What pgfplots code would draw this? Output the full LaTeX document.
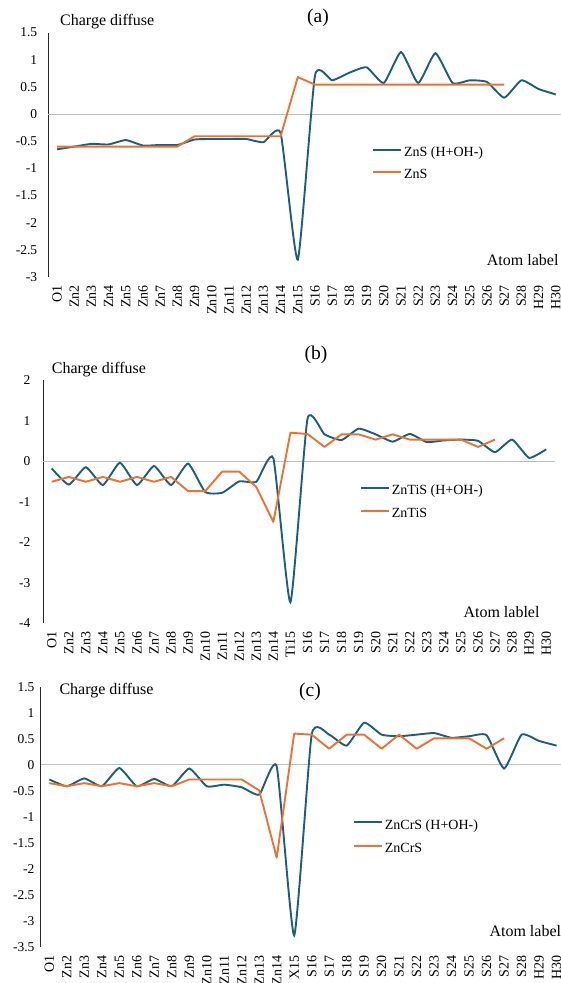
\documentclass[border=0pt]{standalone}
\usepackage{pgfplots}
\pgfplotsset{compat=1.18}
\usepackage{fontspec}
\setmainfont{Liberation Serif}

\definecolor{seriesblue}{HTML}{1B5E80}
\definecolor{seriesorange}{HTML}{EC7230}

\pgfplotsset{
  chargepanel/.style={
    scale only axis,
    axis lines=left,
    axis line style={-},
    x axis line style={draw=none},
    y axis line style={draw=black!85, line width=1.1pt},
    major tick length=0pt,
    xmin=-0.5, xmax=29.5,
    xtick={0,...,29},
    xticklabel style={rotate=90, anchor=east, inner sep=0pt, font=\fontsize{14}{14}\selectfont},
    xticklabel shift=8pt,
    yticklabel style={anchor=east, inner sep=0pt, font=\fontsize{13.5}{14}\selectfont},
    extra y ticks={0},
    extra y tick labels={},
    extra y tick style={grid=major, major grid style={draw=black!25, line width=0.8pt}},
    legend cell align=left,
    legend style={draw=none, fill=none, inner sep=0pt, anchor=north west,
      font=\fontsize{14}{16}\selectfont, row sep=9pt, column sep=2pt,
      nodes={inner sep=0pt, text height=10pt, text depth=3.5pt}},
    legend image code/.code={\draw[#1] (0pt,3.5pt) -- (28pt,3.5pt);},
    clip=false,
  },
  hydro/.style={seriesblue, line width=1.9pt, smooth, tension=0.3},
  bare/.style={seriesorange, line width=1.9pt, line join=round},
}

\newcommand{\axtitle}{\fontsize{16}{18}\selectfont}
\newcommand{\paneltag}{\fontsize{19.5}{21}\selectfont}

\begin{document}
\begin{tikzpicture}
\path[use as bounding box] (0pt,0pt) rectangle (560pt,-983pt);

% ---------------- (a) ZnS ----------------
\begin{scope}[shift={(48.4pt,-32.5pt)}]
\begin{axis}[chargepanel, anchor=north west,
  width=516pt, height=244.5pt,
  ymin=-3, ymax=1.5,
  ytick={-3,-2.5,-2,-1.5,-1,-0.5,0,0.5,1,1.5},
  yticklabels={-3,-2.5,-2,-1.5,-1,-0.5,0,0.5,1,1.5},
  yticklabel shift=11pt,
  xticklabels={O1,Zn2,Zn3,Zn4,Zn5,Zn6,Zn7,Zn8,Zn9,Zn10,Zn11,Zn12,Zn13,Zn14,Zn15,S16,S17,S18,S19,S20,S21,S22,S23,S24,S25,S26,S27,S28,H29,H30},
  legend style={at={(rel axis cs:0.627,0.535)}},
]
\addplot[hydro] coordinates {
  (0,-0.65) (1,-0.60) (2,-0.55) (3,-0.56) (4,-0.48) (5,-0.58) (6,-0.57) (7,-0.57)
  (8,-0.47) (9,-0.46) (10,-0.46) (11,-0.46) (12,-0.52) (13,-0.35) (14,-2.68)
  (15,0.71) (16,0.62) (17,0.76) (18,0.86) (19,0.57) (20,1.14) (21,0.57) (22,1.12)
  (23,0.57) (24,0.62) (25,0.59) (26,0.30) (27,0.62) (28,0.46) (29,0.36)};
\addlegendentry{ZnS (H+OH-)}
\addplot[bare] coordinates {
  (0,-0.6) (1,-0.6) (2,-0.6) (3,-0.6) (4,-0.6) (5,-0.6) (6,-0.6) (7,-0.6)
  (8,-0.41) (9,-0.41) (10,-0.41) (11,-0.41) (12,-0.41) (13,-0.41) (14,0.68)
  (15,0.54) (16,0.54) (17,0.54) (18,0.54) (19,0.54) (20,0.54) (21,0.54) (22,0.54)
  (23,0.54) (24,0.54) (25,0.54) (26,0.54)};
\addlegendentry{ZnS}
\end{axis}
\end{scope}
\node[anchor=base west, inner sep=0pt, font=\axtitle] at (60pt,-25pt) {Charge diffuse};
\node[anchor=base west, inner sep=0pt, font=\axtitle] at (486.7pt,-265pt) {Atom label};
\node[inner sep=0pt, font=\paneltag] at (318pt,-17.5pt) {(a)};

% ---------------- (b) ZnTiS ----------------
\begin{scope}[shift={(43.2pt,-380pt)}]
\begin{axis}[chargepanel, anchor=north west,
  width=511.5pt, height=243.3pt,
  ymin=-4, ymax=2,
  ytick={-4,-3,-2,-1,0,1,2},
  yticklabels={-4,-3,-2,-1,0,1,2},
  yticklabel shift=12.6pt,
  xticklabels={O1,Zn2,Zn3,Zn4,Zn5,Zn6,Zn7,Zn8,Zn9,Zn10,Zn11,Zn12,Zn13,Zn14,Ti15,S16,S17,S18,S19,S20,S21,S22,S23,S24,S25,S26,S27,S28,H29,H30},
  legend style={at={(rel axis cs:0.619,0.570)}},
]
\addplot[hydro] coordinates {
  (0,-0.18) (1,-0.58) (2,-0.15) (3,-0.59) (4,-0.04) (5,-0.59) (6,-0.12) (7,-0.59)
  (8,-0.06) (9,-0.76) (10,-0.78) (11,-0.50) (12,-0.51) (13,0.07) (14,-3.48)
  (15,1.04) (16,0.66) (17,0.52) (18,0.80) (19,0.66) (20,0.48) (21,0.67) (22,0.47)
  (23,0.51) (24,0.53) (25,0.50) (26,0.22) (27,0.53) (28,0.08) (29,0.29)};
\addlegendentry{ZnTiS (H+OH-)}
\addplot[bare] coordinates {
  (0,-0.51) (1,-0.39) (2,-0.51) (3,-0.39) (4,-0.51) (5,-0.39) (6,-0.51) (7,-0.39)
  (8,-0.74) (9,-0.74) (10,-0.26) (11,-0.26) (12,-0.64) (13,-1.50) (14,0.70)
  (15,0.67) (16,0.35) (17,0.66) (18,0.66) (19,0.53) (20,0.66) (21,0.53) (22,0.53)
  (23,0.53) (24,0.53) (25,0.35) (26,0.53)};
\addlegendentry{ZnTiS}
\end{axis}
\end{scope}
\node[anchor=base west, inner sep=0pt, font=\axtitle] at (51.7pt,-373.3pt) {Charge diffuse};
\node[anchor=base west, inner sep=0pt, font=\axtitle] at (463.3pt,-617.3pt) {Atom lablel};
\node[inner sep=0pt, font=\paneltag] at (316pt,-355pt) {(b)};

% ---------------- (c) ZnCrS ----------------
\begin{scope}[shift={(40.6pt,-686.7pt)}]
\begin{axis}[chargepanel, anchor=north west,
  width=524.7pt, height=260.6pt,
  ymin=-3.5, ymax=1.5,
  ytick={-3.5,-3,-2.5,-2,-1.5,-1,-0.5,0,0.5,1,1.5},
  yticklabels={-3.5,-3,-2.5,-2,-1.5,-1,-0.5,0,0.5,1,1.5},
  yticklabel shift=6pt,
  xticklabels={O1,Zn2,Zn3,Zn4,Zn5,Zn6,Zn7,Zn8,Zn9,Zn10,Zn11,Zn12,Zn13,Zn14,X15,S16,S17,S18,S19,S20,S21,S22,S23,S24,S25,S26,S27,S28,H29,H30},
  legend style={at={(rel axis cs:0.595,0.493)}, row sep=9.9pt},
]
\addplot[hydro] coordinates {
  (0,-0.28) (1,-0.41) (2,-0.26) (3,-0.41) (4,-0.06) (5,-0.41) (6,-0.27) (7,-0.41)
  (8,-0.07) (9,-0.41) (10,-0.38) (11,-0.43) (12,-0.57) (13,-0.03) (14,-3.27)
  (15,0.58) (16,0.58) (17,0.37) (18,0.81) (19,0.58) (20,0.55) (21,0.58) (22,0.61)
  (23,0.52) (24,0.55) (25,0.57) (26,-0.07) (27,0.58) (28,0.46) (29,0.37)};
\addlegendentry{ZnCrS (H+OH-)}
\addplot[bare] coordinates {
  (0,-0.35) (1,-0.41) (2,-0.35) (3,-0.41) (4,-0.35) (5,-0.41) (6,-0.35) (7,-0.41)
  (8,-0.28) (9,-0.28) (10,-0.28) (11,-0.28) (12,-0.49) (13,-1.78) (14,0.60)
  (15,0.58) (16,0.31) (17,0.58) (18,0.58) (19,0.31) (20,0.58) (21,0.31) (22,0.51)
  (23,0.51) (24,0.51) (25,0.31) (26,0.51)};
\addlegendentry{ZnCrS}
\end{axis}
\end{scope}
\node[anchor=base west, inner sep=0pt, font=\axtitle] at (59.3pt,-694.3pt) {Charge diffuse};
\node[anchor=base west, inner sep=0pt, font=\axtitle] at (489.3pt,-936pt) {Atom label};
\node[inner sep=0pt, font=\paneltag] at (310pt,-692pt) {(c)};
\end{tikzpicture}
\end{document}
